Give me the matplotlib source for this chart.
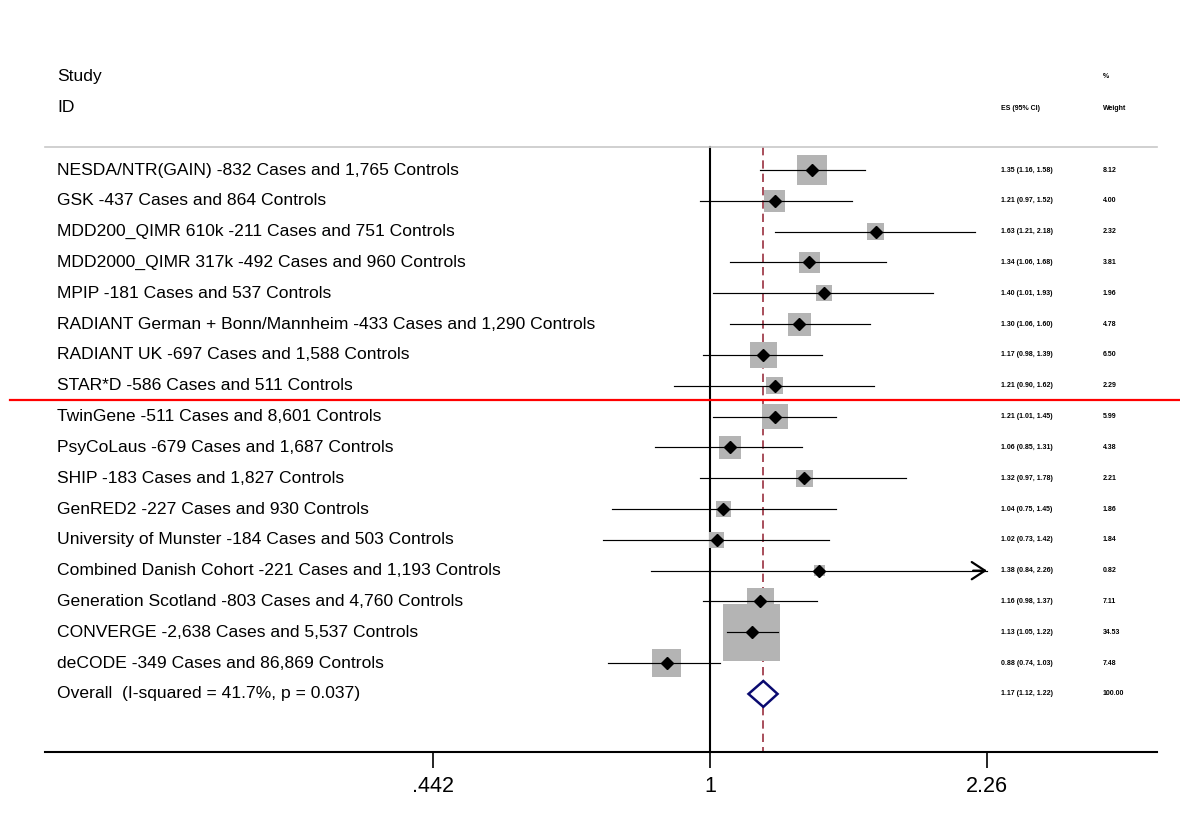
import numpy as np
import matplotlib
matplotlib.use("Agg")
import matplotlib.pyplot as plt
from matplotlib.transforms import blended_transform_factory
from matplotlib.patches import Polygon

studies = [
    "NESDA/NTR(GAIN) -832 Cases and 1,765 Controls",
    "GSK -437 Cases and 864 Controls",
    "MDD200_QIMR 610k -211 Cases and 751 Controls",
    "MDD2000_QIMR 317k -492 Cases and 960 Controls",
    "MPIP -181 Cases and 537 Controls",
    "RADIANT German + Bonn/Mannheim -433 Cases and 1,290 Controls",
    "RADIANT UK -697 Cases and 1,588 Controls",
    "STAR*D -586 Cases and 511 Controls",
    "TwinGene -511 Cases and 8,601 Controls",
    "PsyCoLaus -679 Cases and 1,687 Controls",
    "SHIP -183 Cases and 1,827 Controls",
    "GenRED2 -227 Cases and 930 Controls",
    "University of Munster -184 Cases and 503 Controls",
    "Combined Danish Cohort -221 Cases and 1,193 Controls",
    "Generation Scotland -803 Cases and 4,760 Controls",
    "CONVERGE -2,638 Cases and 5,537 Controls",
    "deCODE -349 Cases and 86,869 Controls",
]
es = [1.35, 1.21, 1.63, 1.34, 1.40, 1.30, 1.17, 1.21, 1.21, 1.06, 1.32, 1.04, 1.02, 1.38, 1.16, 1.13, 0.88]
ci_lo = [1.16, 0.97, 1.21, 1.06, 1.01, 1.06, 0.98, 0.90, 1.01, 0.85, 0.97, 0.75, 0.73, 0.84, 0.98, 1.05, 0.74]
ci_hi = [1.58, 1.52, 2.18, 1.68, 1.93, 1.60, 1.39, 1.62, 1.45, 1.31, 1.78, 1.45, 1.42, 2.26, 1.37, 1.22, 1.03]
weights = [8.12, 4.00, 2.32, 3.81, 1.96, 4.78, 6.50, 2.29, 5.99, 4.38, 2.21, 1.86, 1.84, 0.82, 7.11, 34.53, 7.48]
overall_label = "Overall  (I-squared = 41.7%, p = 0.037)"
overall_es, overall_lo, overall_hi, overall_w = 1.17, 1.12, 1.22, 100.00
xticks = [0.442, 1.0, 2.26]
xtick_labels = [".442", "1", "2.26"]

plt.rcParams['font.family'] = ['Liberation Sans', 'DejaVu Sans']

W, H = 1180, 832
fig = plt.figure(figsize=(W / 100, H / 100), dpi=100)
ax_left, ax_right = 45, 1157
ax_bottom_px, ax_top_px = 752, 20
ax = fig.add_axes([ax_left / W, (H - ax_bottom_px) / H,
                   (ax_right - ax_left) / W, (ax_bottom_px - ax_top_px) / H])

ppl = 339.7  # pixels per log unit
x0 = 710
ax.set_xscale('log')
ax.set_xlim(np.exp((ax_left - x0) / ppl), np.exp((ax_right - x0) / ppl))
row0, rowstep = 170, 30.82
ax.set_ylim((ax_bottom_px - row0) / rowstep, (ax_top_px - row0) / rowstep)

for s in ['top', 'left', 'right']:
    ax.spines[s].set_visible(False)
ax.spines['bottom'].set_linewidth(1.5)
ax.set_yticks([])
ax.set_xticks(xticks)
ax.set_xticklabels(xtick_labels, fontsize=15.5)
ax.xaxis.set_minor_locator(matplotlib.ticker.NullLocator())
ax.tick_params(axis='x', direction='out', length=11.5, width=1.2, pad=6)

n = len(studies)
rows = np.arange(n)
overall_row = n
ytop = (147 - row0) / rowstep
ybot = (ax_bottom_px - row0) / rowstep

tx = blended_transform_factory(ax.transAxes, ax.transData)

# header gray line
ax.plot([0, 1], [ytop, ytop], transform=tx, color='#c8c8c8', lw=1.2, clip_on=False)

# reference lines
ax.plot([1, 1], [ytop, ybot], color='black', lw=1.5, zorder=1)
ax.plot([overall_es, overall_es], [ytop, ybot], color='#9a3040', lw=1.2,
        dashes=(5, 3), zorder=1)

# weight boxes
side_pt = (3 + 9.2 * np.sqrt(np.array(weights))) * 0.72
ax.scatter(es, rows, s=side_pt ** 2, marker='s', color='#b4b4b4', linewidths=0, zorder=2)

# CI lines
lo_lim, hi_lim = xticks[0], xticks[-1]
for r, lo, hi in zip(rows, ci_lo, ci_hi):
    l = max(lo, lo_lim)
    h = min(hi, hi_lim)
    ax.plot([l, h], [r, r], color='black', lw=0.85, zorder=3)
    if hi >= hi_lim:
        ax.annotate('', xy=(hi_lim, r), xytext=(hi_lim * 0.96, r),
                    arrowprops=dict(arrowstyle='->, head_length=0.95, head_width=0.62',
                                    lw=1.6, color='black', shrinkA=0, shrinkB=0),
                    zorder=4)
    if lo <= lo_lim:
        ax.annotate('', xy=(lo_lim, r), xytext=(lo_lim * 1.04, r),
                    arrowprops=dict(arrowstyle='->, head_length=0.95, head_width=0.62',
                                    lw=1.6, color='black', shrinkA=0, shrinkB=0),
                    zorder=4)

ax.plot(es, rows, linestyle='none', marker='D', markersize=6.2, color='black', zorder=5)

# overall diamond
dh = 0.42
diamond = Polygon([(overall_lo, overall_row), (overall_es, overall_row - dh),
                   (overall_hi, overall_row), (overall_es, overall_row + dh)],
                  closed=True, facecolor='white', edgecolor='#0a0a70', lw=1.8, zorder=5)
ax.add_patch(diamond)

# red separator
ax.plot([-0.0315, 1.021], [7.47, 7.47], transform=tx, color='red', lw=1.6,
        clip_on=False, zorder=6)

# texts
lab_x = (57 - ax_left) / (ax_right - ax_left)
es_x = (1001 - ax_left) / (ax_right - ax_left)
wt_x = (1103 - ax_left) / (ax_right - ax_left)
fs = 12.6
sfs = 5
ax.text(lab_x, (77 - row0) / rowstep, "Study", transform=tx, fontsize=fs, va='center', ha='left')
ax.text(lab_x, (108 - row0) / rowstep, "ID", transform=tx, fontsize=fs, va='center', ha='left')
ax.text(wt_x, (77 - row0) / rowstep, "%", transform=tx, fontsize=sfs, va='center', ha='left', fontweight='bold')
ax.text(es_x, (108 - row0) / rowstep, "ES (95% CI)", transform=tx, fontsize=sfs, va='center', ha='left', fontweight='bold')
ax.text(wt_x, (108 - row0) / rowstep, "Weight", transform=tx, fontsize=sfs, va='center', ha='left', fontweight='bold')

all_labels = studies + [overall_label]
all_es = es + [overall_es]
all_lo = ci_lo + [overall_lo]
all_hi = ci_hi + [overall_hi]
all_w = weights + [overall_w]
for r, (lab, e, lo, hi, w) in enumerate(zip(all_labels, all_es, all_lo, all_hi, all_w)):
    ax.text(lab_x, r, lab, transform=tx, fontsize=fs, va='center', ha='left')
    ax.text(es_x, r, f"{e:.2f} ({lo:.2f}, {hi:.2f})", transform=tx, fontsize=sfs,
            va='center', ha='left', fontweight='bold')
    ax.text(wt_x, r, f"{w:.2f}", transform=tx, fontsize=sfs, va='center', ha='left',
            fontweight='bold')

fig.savefig("out.png", dpi=100)
